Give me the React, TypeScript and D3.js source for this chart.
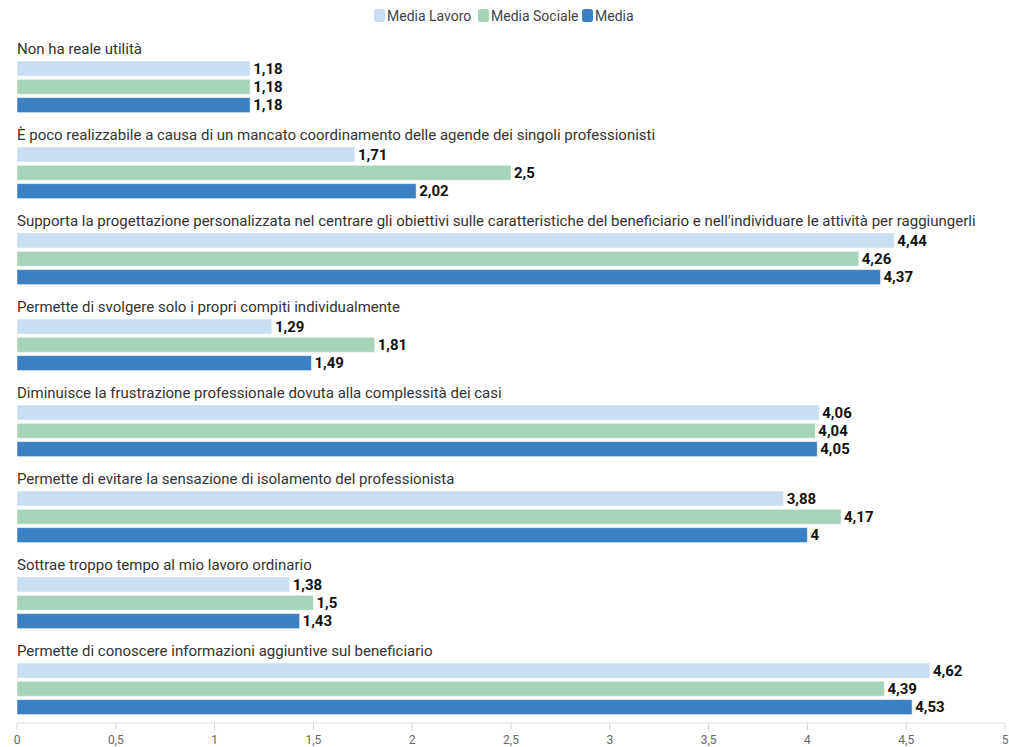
import React from "react";
import * as d3 from "d3";

const categories = [
  "Non ha reale utilità",
  "È poco realizzabile a causa di un mancato coordinamento delle agende dei singoli professionisti",
  "Supporta la progettazione personalizzata nel centrare gli obiettivi sulle caratteristiche del beneficiario e nell'individuare le attività per raggiungerli",
  "Permette di svolgere solo i propri compiti individualmente",
  "Diminuisce la frustrazione professionale dovuta alla complessità dei casi",
  "Permette di evitare la sensazione di isolamento del professionista",
  "Sottrae troppo tempo al mio lavoro ordinario",
  "Permette di conoscere informazioni aggiuntive sul beneficiario",
];

const seriesNames = ["Media Lavoro", "Media Sociale", "Media"];
const seriesColors = ["#c9ddf3", "#a6d4ba", "#3b80c2"];

const mediaLavoro = [1.18, 1.71, 4.44, 1.29, 4.06, 3.88, 1.38, 4.62];
const mediaSociale = [1.18, 2.5, 4.26, 1.81, 4.04, 4.17, 1.5, 4.39];
const media = [1.18, 2.02, 4.37, 1.49, 4.05, 4.0, 1.43, 4.53];

const tickValues = [0, 0.5, 1, 1.5, 2, 2.5, 3, 3.5, 4, 4.5, 5];

const W = 1009;
const H = 747;
const FONT = "Roboto, 'Noto Sans', sans-serif";

const fmt = (v: number) => String(v).replace(".", ",");

export default function App() {
  const x = d3.scaleLinear().domain([0, 5]).range([17, 1005]);
  const y = d3.scaleBand<number>().domain(d3.range(categories.length)).range([40, 728]).paddingInner(0);
  const inner = d3.scaleBand<number>().domain([0, 1, 2]).range([21, 72.6]).paddingInner(0.18);
  const values = [mediaLavoro, mediaSociale, media];
  const axisY = 723;

  const legendX = [374, 478, 582];

  return (
    <svg width={W} height={H} style={{ position: "absolute", left: 0, top: 0, background: "#fff" }} fontFamily={FONT}>
      {/* legend */}
      {seriesNames.map((n, i) => (
        <g key={n} transform={`translate(${legendX[i]},9)`}>
          <rect width={11} height={13} rx={2.5} fill={seriesColors[i]} />
          <text x={13} y={11.5} fontSize={14} fill="#444">{n}</text>
        </g>
      ))}

      {/* groups */}
      {categories.map((c, gi) => {
        const g0 = y(gi)!;
        return (
          <g key={gi} transform={`translate(0,${g0})`}>
            <text x={17} y={13.5} fontSize={15} fill="#333">{c}</text>
            {values.map((vals, si) => {
              const v = vals[gi];
              const by = inner(si)!;
              const bh = inner.bandwidth();
              return (
                <g key={si}>
                  <rect
                    x={x(0)}
                    y={by}
                    width={x(v) - x(0)}
                    height={bh}
                    fill={seriesColors[si]}
                    stroke="#ffffff"
                    strokeOpacity={0.5}
                    strokeWidth={1}
                  />
                  <text x={x(v) + 3} y={by + bh / 2 + 5.2} fontSize={15} fontWeight={700} fill="#111">
                    {fmt(v)}
                  </text>
                </g>
              );
            })}
          </g>
        );
      })}

      {/* x axis */}
      <line x1={x(0)} x2={x(5)} y1={axisY} y2={axisY} stroke="#e3e3e3" strokeWidth={1} />
      {tickValues.map((t) => (
        <g key={t} transform={`translate(${x(t)},${axisY})`}>
          <line y1={0} y2={7} stroke="#d6d6d6" />
          <text y={21} textAnchor="middle" fontSize={12} fill="#666">{fmt(t)}</text>
        </g>
      ))}
    </svg>
  );
}
